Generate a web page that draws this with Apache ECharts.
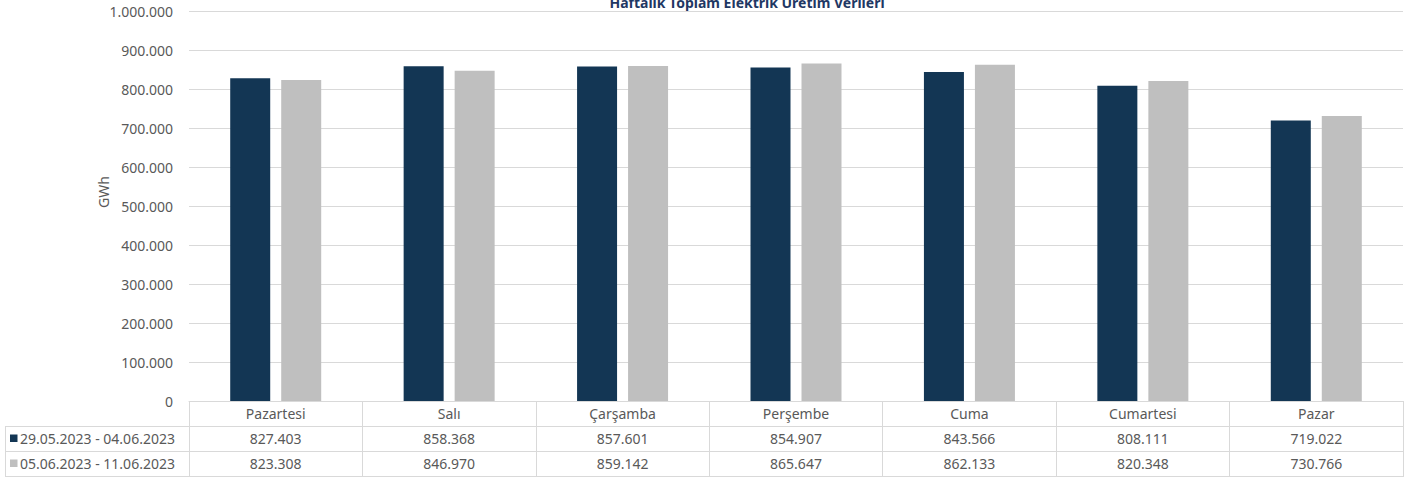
<!DOCTYPE html>
<html>
<head>
<meta charset="utf-8">
<script src="https://cdn.jsdelivr.net/npm/echarts@6/dist/echarts.min.js"></script>
<style>
html,body{margin:0;padding:0;background:#fff;}
#chart{width:1414px;height:480px;}
</style>
</head>
<body>
<div id="chart"></div>
<script>
const titleText = 'Haftalık Toplam Elektrik Üretim Verileri';
const yAxisName = 'GWh';
const categories = ['Pazartesi', 'Salı', 'Çarşamba', 'Perşembe', 'Cuma', 'Cumartesi', 'Pazar'];
const seriesNames = ['29.05.2023 - 04.06.2023', '05.06.2023 - 11.06.2023'];
const week1 = [827403, 858368, 857601, 854907, 843566, 808111, 719022];
const week2 = [823308, 846970, 859142, 865647, 862133, 820348, 730766];
const colors = ['#133654', '#bfbfbf'];

const fmt = v => String(v).replace(/\B(?=(\d{3})+(?!\d))/g, '.');
const FONT = 'Noto Sans';
const TXT = '#595959';
const LINE = '#d9d9d9';

const gridLeft = 189, gridRight = 11, gridTop = 11, gridBottom = 79;
const rowH = 25;
const axisY = 480 - gridBottom;

const chart = echarts.init(document.getElementById('chart'), null, {renderer: 'svg'});

const tableAxis = (data, offset, extra) => Object.assign({
  type: 'category',
  data: data,
  position: 'bottom',
  offset: offset,
  axisLine: {show: true, lineStyle: {color: LINE, width: 1}},
  axisTick: {show: false},
  axisLabel: {show: true, interval: 0, margin: 0, lineHeight: rowH, color: TXT, fontFamily: FONT, fontSize: 14},
  splitLine: {show: false}
}, extra || {});

const legendGraphics = [];
seriesNames.forEach((name, i) => {
  const cy = axisY + rowH * (i + 1) + rowH / 2;
  legendGraphics.push({type: 'rect', shape: {x: 10, y: cy - 4, width: 7.5, height: 7.5}, style: {fill: colors[i]}});
  legendGraphics.push({type: 'text', x: 20, y: cy, style: {text: name, fill: TXT, font: '14px "Noto Sans"', verticalAlign: 'middle', align: 'left'}});
});
[1, 2, 3].forEach(k => {
  const y = axisY + rowH * k + 0.5;
  legendGraphics.push({type: 'line', shape: {x1: 5, y1: y, x2: gridLeft, y2: y}, style: {stroke: LINE, lineWidth: 1}});
});
legendGraphics.push({type: 'line', shape: {x1: 5.5, y1: axisY + rowH, x2: 5.5, y2: axisY + rowH * 3 + 1}, style: {stroke: LINE, lineWidth: 1}});

chart.setOption({
  animation: false,
  backgroundColor: '#ffffff',
  textStyle: {fontFamily: FONT},
  grid: {left: gridLeft, right: gridRight, top: gridTop, bottom: gridBottom, containLabel: false},
  xAxis: [
    tableAxis(categories, 0, {
      axisTick: {show: true, length: rowH * 3 + 1, lineStyle: {color: LINE}, alignWithLabel: false, interval: 0}
    }),
    tableAxis(week1.map(fmt), rowH),
    tableAxis(week2.map(fmt), rowH * 2),
    tableAxis(categories.map(() => ''), rowH * 3, {axisLabel: {show: false}})
  ],
  yAxis: {
    type: 'value',
    min: 0, max: 1000000, interval: 100000,
    axisLine: {show: false},
    axisTick: {show: false},
    axisLabel: {formatter: v => fmt(v), color: TXT, fontFamily: FONT, fontSize: 14, margin: 16},
    splitLine: {show: true, lineStyle: {color: LINE, width: 1}}
  },
  series: [
    {name: seriesNames[0], type: 'bar', data: week1, barWidth: 40, barGap: '27.5%', itemStyle: {color: colors[0]}, xAxisIndex: 0},
    {name: seriesNames[1], type: 'bar', data: week2, barWidth: 40, barGap: '27.5%', itemStyle: {color: colors[1]}, xAxisIndex: 0}
  ],
  graphic: [
    {type: 'text', x: 747, y: 2, style: {text: titleText, fill: '#1f3864', font: 'bold 14px "Noto Sans"', align: 'center', verticalAlign: 'middle'}},
    {type: 'text', x: 103, y: 192, rotation: Math.PI / 2, style: {text: yAxisName, fill: TXT, font: '14px "Noto Sans"', align: 'center', verticalAlign: 'middle'}}
  ].concat(legendGraphics)
});
</script>
</body>
</html>
